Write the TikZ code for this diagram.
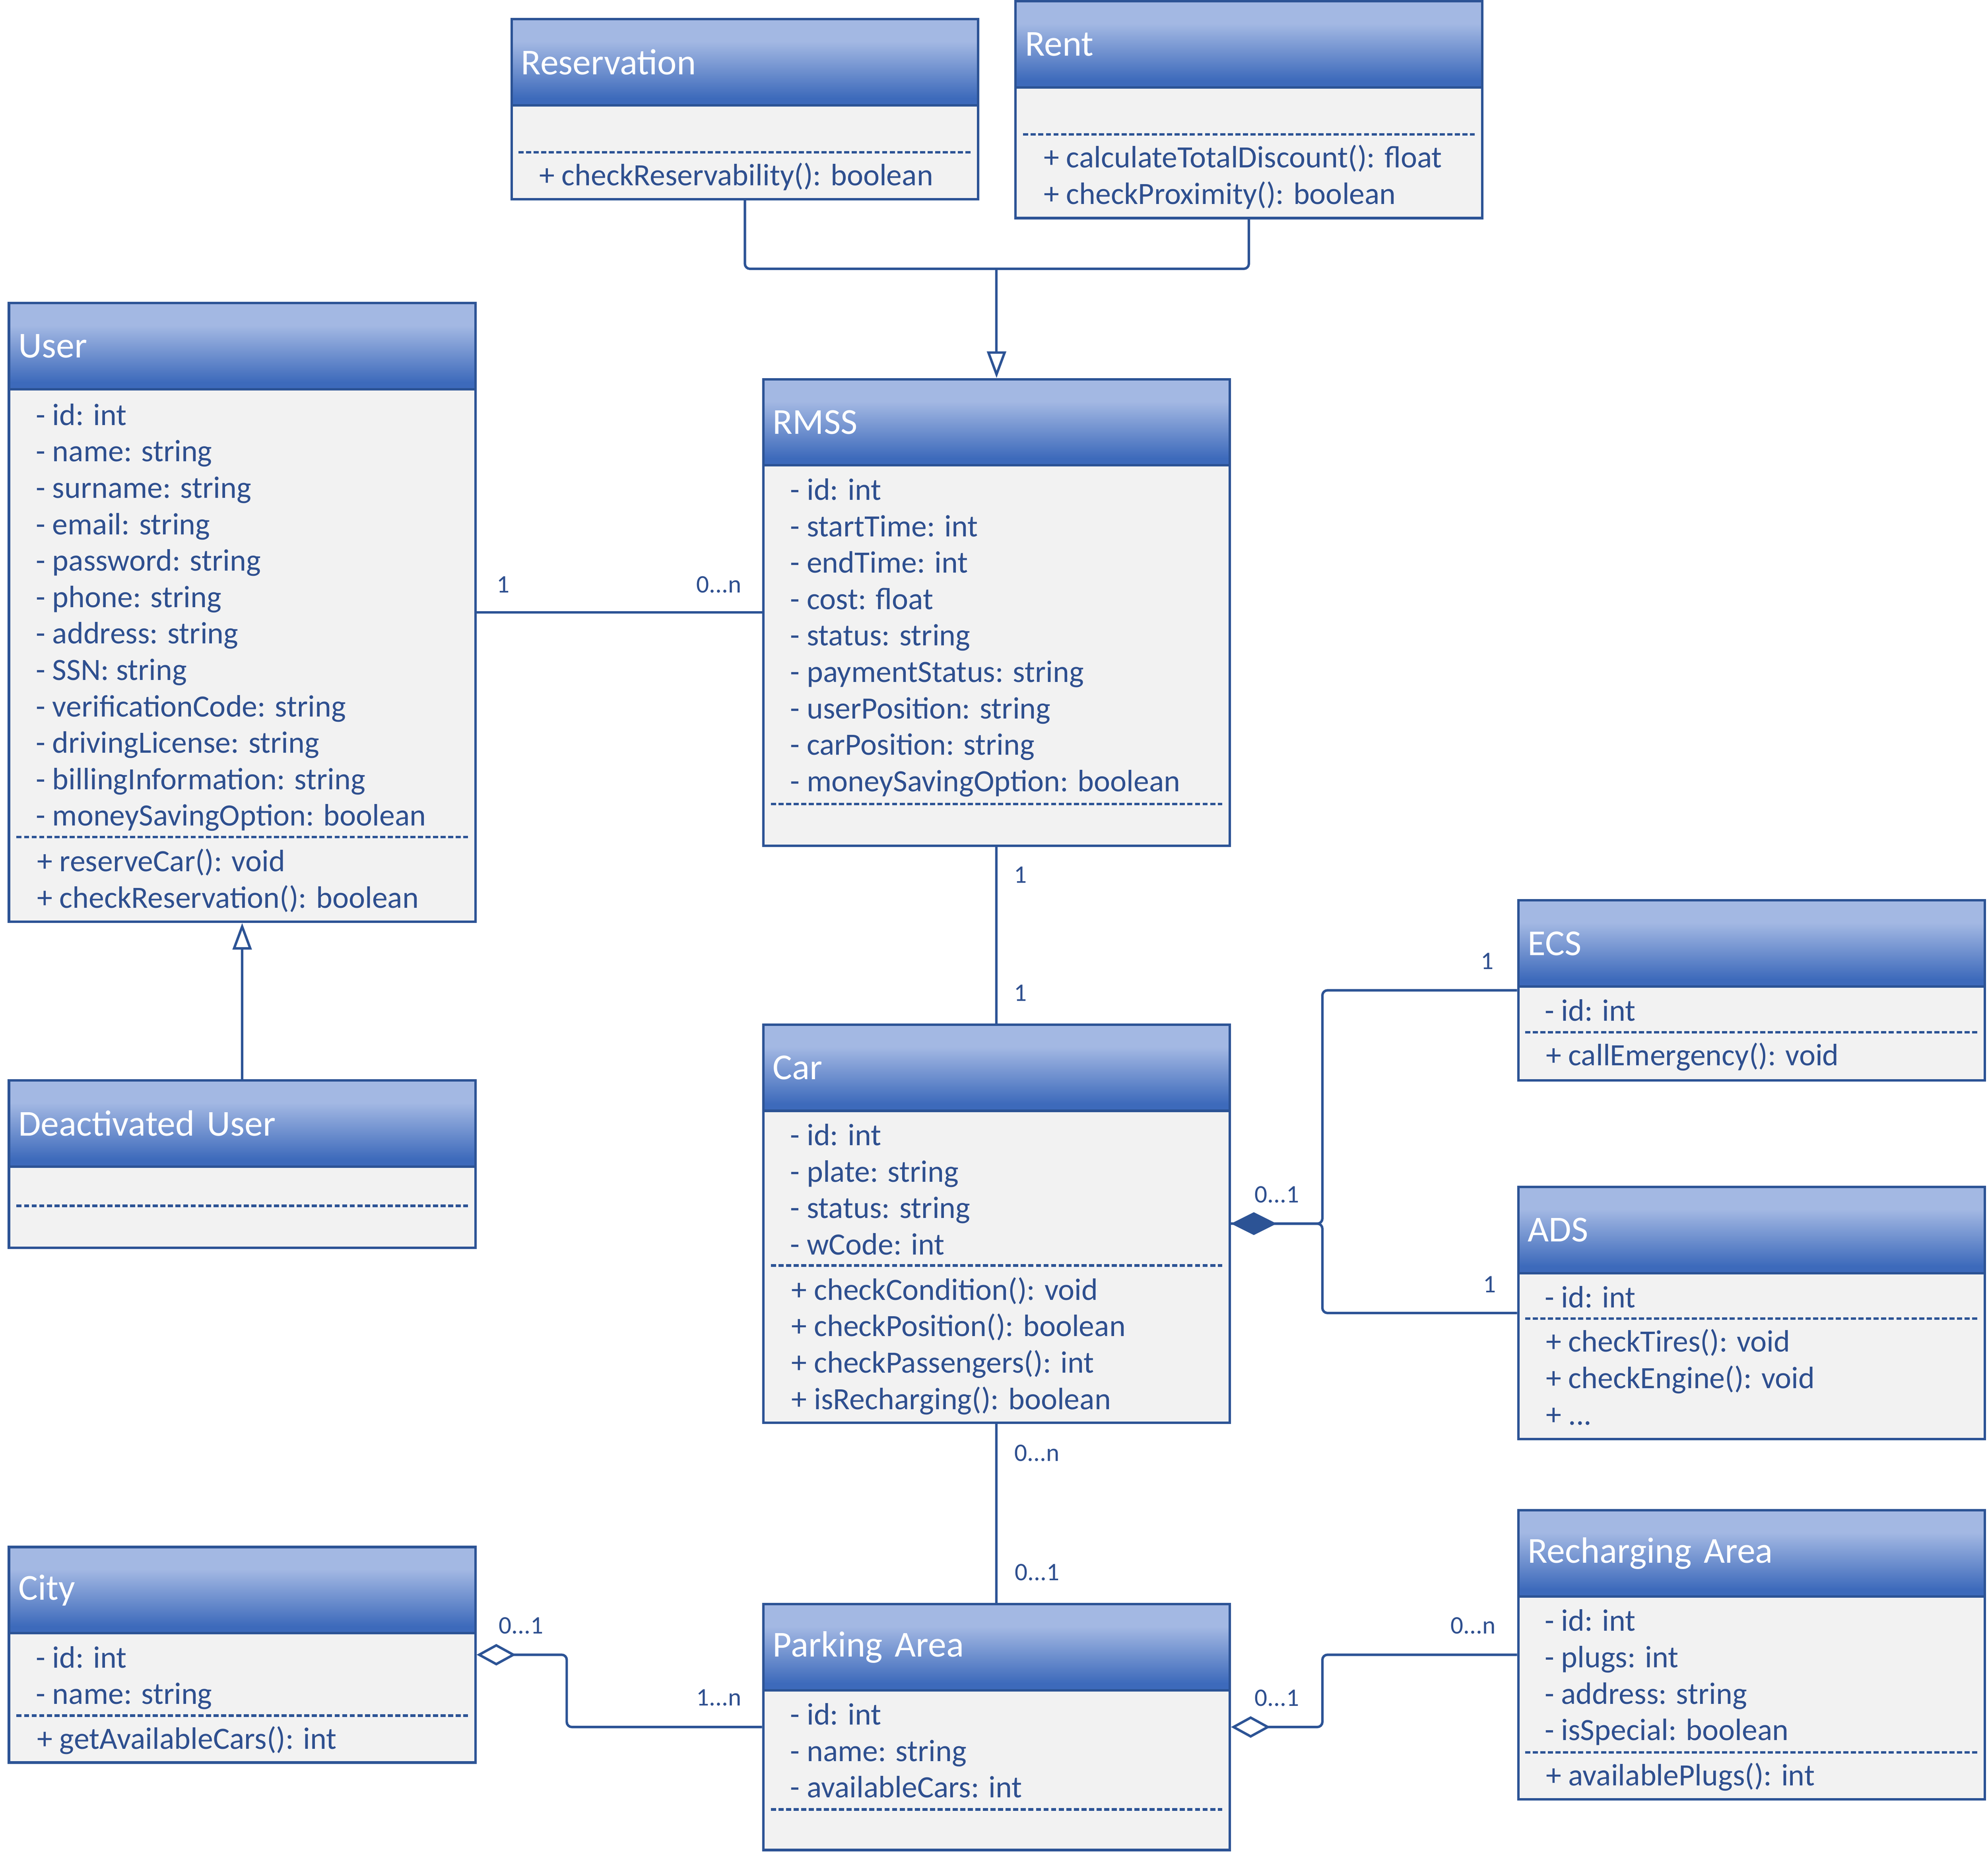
\documentclass[tikz,border=0pt]{standalone}
\usepackage{fontspec}
\setmainfont{Carlito}
\usepackage[HTML]{xcolor}
\usepackage{tikz}
\usetikzlibrary{positioning, arrows.meta}
\definecolor{umlline}{HTML}{2C5395}
\definecolor{umltext}{HTML}{2E4F8F}
\definecolor{umlbody}{HTML}{F2F2F2}
\definecolor{headtop}{HTML}{A3B8E3}
\definecolor{headbot}{HTML}{3D6ABB}
\pgfdeclareverticalshading{umlhead}{100bp}{color(0bp)=(headbot); color(25bp)=(headbot); color(29bp)=(headbot); color(62bp)=(headtop); color(75bp)=(headtop); color(100bp)=(headtop)}

\begin{document}
\begin{tikzpicture}[x=0.02cm, y=-0.02cm,
  classbox/.style={draw=umlline, line width=1.1pt, fill=umlbody, minimum width=7.36cm, inner sep=0},
  classhead/.style={draw=umlline, line width=1.1pt, shade, shading=umlhead, anchor=north,
    minimum width=7.36cm, minimum height=1.36cm, text width=7.06cm, inner xsep=0.15cm,
    align=left, text=white, font=\fontsize{16.4}{19}\selectfont},
  members/.style={anchor=north west, inner sep=0, align=left, text=umltext,
    font=\fontsize{13.9}{16.35}\selectfont},
  sep/.style={draw=umlline, line width=1.1pt, dash pattern=on 2.3pt off 1.1pt},
  mult/.style={text=umltext, inner sep=0, font=\fontsize{11.3}{13}\selectfont},
  assoc/.style={draw=umlline, line width=1.1pt, rounded corners=0.08cm},
  gen/.style={assoc, -{Triangle[open, length=0.42cm, width=0.3cm, fill=white]}},
  comp/.style={assoc, {Diamond[length=0.72cm, width=0.36cm]}-},
  aggr/.style={assoc, {Diamond[open, length=0.62cm, width=0.34cm, fill=white]}-}]
\useasboundingbox (0,0) rectangle (1568,1461.3);

% Reservation and Rent
\node[classbox, minimum height=2.84cm] (res) at (587.5,86) {};
\node[classhead] (resh) at (res.north) {Reservation};
\draw[sep] (409,120) -- (766,120);
\node[members] (resm) at (425,128) {+ checkReservability(): boolean};

\node[classbox, minimum height=3.42cm] (rent) at (985,86.5) {};
\node[classhead] (renth) at (rent.north) {Rent};
\draw[sep] (807,106) -- (1163,106);
\node[members] (rentm) at (823,114) {+ calculateTotalDiscount(): float\\+ checkProximity(): boolean};

% User
\node[classbox, minimum height=9.76cm] (user) at (191,483) {};
\node[classhead] (userh) at (user.north) {User};
\node[members] (usera) at (28,318) {- id: int\\- name: string\\- surname: string\\- email: string\\- password: string\\- phone: string\\- address: string\\- SSN: string\\- verificationCode: string\\- drivingLicense: string\\- billingInformation: string\\- moneySavingOption: boolean};
\draw[sep] (13,660) -- (369,660);
\node[members] (userm) at (29,669) {+ reserveCar(): void\\+ checkReservation(): boolean};

% RMSS
\node[classbox, minimum height=7.36cm] (rmss) at (786,483) {};
\node[classhead] (rmssh) at (rmss.north) {RMSS};
\node[members] (rmssa) at (623,377) {- id: int\\- startTime: int\\- endTime: int\\- cost: float\\- status: string\\- paymentStatus: string\\- userPosition: string\\- carPosition: string\\- moneySavingOption: boolean};
\draw[sep] (608,634) -- (964,634);

% Deactivated User
\node[classbox, minimum height=2.64cm] (deact) at (191,918) {};
\node[classhead] (deacth) at (deact.north) {Deactivated User};
\draw[sep] (13,951) -- (369,951);

% Car
\node[classbox, minimum height=6.28cm] (car) at (786,965) {};
\node[classhead] (carh) at (car.north) {Car};
\node[members] (cara) at (623,886) {- id: int\\- plate: string\\- status: string\\- wCode: int};
\draw[sep] (608,998) -- (964,998);
\node[members] (carm) at (624,1007) {+ checkCondition(): void\\+ checkPosition(): boolean\\+ checkPassengers(): int\\+ isRecharging(): boolean};

% ECS and ADS
\node[classbox, minimum height=2.84cm] (ecs) at (1381.5,781) {};
\node[classhead] (ecsh) at (ecs.north) {ECS};
\node[members] (ecsa) at (1218,788) {- id: int};
\draw[sep] (1203,814) -- (1560,814);
\node[members] (ecsm) at (1219,822) {+ callEmergency(): void};

\node[classbox, minimum height=3.98cm] (ads) at (1381.5,1035.5) {};
\node[classhead] (adsh) at (ads.north) {ADS};
\node[members] (adsa) at (1218,1014) {- id: int};
\draw[sep] (1203,1040) -- (1560,1040);
\node[members] (adsm) at (1219,1048) {+ checkTires(): void\\+ checkEngine(): void\\+ ...};

% City, Parking Area, Recharging Area
\node[classbox, minimum height=3.4cm] (city) at (191,1305) {};
\node[classhead] (cityh) at (city.north) {City};
\node[members] (citya) at (28,1298) {- id: int\\- name: string};
\draw[sep] (13,1353) -- (369,1353);
\node[members] (citym) at (29,1361) {+ getAvailableCars(): int};

\node[classbox, minimum height=3.88cm] (park) at (786,1362) {};
\node[classhead] (parkh) at (park.north) {Parking Area};
\node[members] (parka) at (623,1343) {- id: int\\- name: string\\- availableCars: int};
\draw[sep] (608,1427) -- (964,1427);

\node[classbox, minimum height=4.56cm] (rech) at (1381.5,1305) {};
\node[classhead] (rechh) at (rech.north) {Recharging Area};
\node[members] (recha) at (1218,1269) {- id: int\\- plugs: int\\- address: string\\- isSpecial: boolean};
\draw[sep] (1203,1382) -- (1560,1382);
\node[members] (rechm) at (1219,1390) {+ availablePlugs(): int};

% connectors
\coordinate (genj) at (rmss.north |- 0,212);
\draw[assoc] (res.south) |- (genj) -| (rent.south);
\draw[gen] (genj) -- (rmss.north);
\draw[gen] (deact.north) -- (user.south);

\draw[assoc] (user.east) -- (rmss.west);
\node[mult] (m-user) at (397,461) {1};
\node[mult] (m-rmss) at (567,461) {0...n};

\draw[assoc] (rmss.south) -- (car.north);
\node[mult] (m-rmss2) at (805,690) {1};
\node[mult] (m-car) at (805,783) {1};

\coordinate (carj) at (1043,965);
\draw[comp] (car.east) -- (carj) |- (ecs.west);
\draw[assoc] (car.east) -- (carj) |- (ads.west);
\node[mult] (m-car2) at (1007,942) {0...1};
\node[mult] (m-ecs) at (1173,758) {1};
\node[mult] (m-ads) at (1175,1013) {1};

\draw[assoc] (car.south) -- (park.north);
\node[mult] (m-car3) at (818,1146) {0...n};
\node[mult] (m-park) at (818,1240) {0...1};

\coordinate (cityj) at (447,1333);
\draw[aggr] (city.east) -| (cityj) |- (park.west);
\node[mult] (m-city) at (411,1282) {0...1};
\node[mult] (m-park2) at (567,1339) {1...n};

\coordinate (rechj) at (1043,1333);
\draw[aggr] (park.east) -| (rechj) |- (rech.west);
\node[mult] (m-park3) at (1007,1339) {0...1};
\node[mult] (m-rech) at (1162,1282) {0...n};
\end{tikzpicture}
\end{document}
